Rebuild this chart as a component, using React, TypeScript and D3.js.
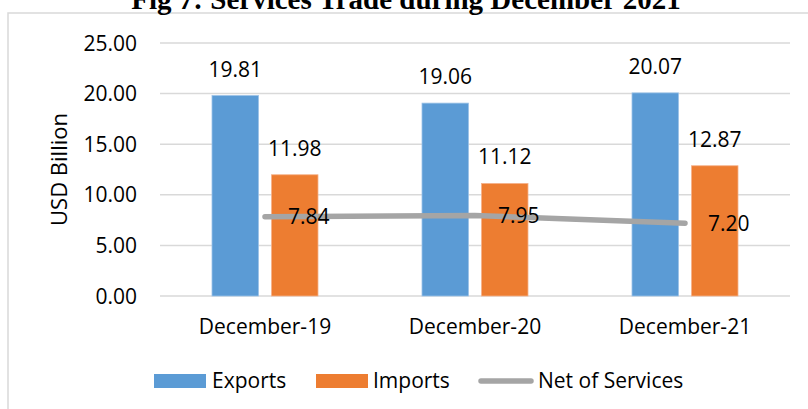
import React from "react";
import * as d3 from "d3";

const categories = ["December-19", "December-20", "December-21"];
const exportsVals = [19.81, 19.06, 20.07];
const importsVals = [11.98, 11.12, 12.87];
const netVals = [7.84, 7.95, 7.2];
const yTicks = [0, 5, 10, 15, 20, 25];
const seriesNames = ["Exports", "Imports", "Net of Services"];
const title = "Fig 7: Services Trade during December 2021";
const yTitle = "USD Billion";

const W = 808;
const H = 409;
const FONT = "'Open Sans', 'Noto Sans', sans-serif";
const FS = 21;
const BLUE = "#5B9BD5";
const ORANGE = "#ED7D31";
const GREY = "#A5A5A5";

export default function App() {
  const x = d3.scaleBand<string>().domain(categories).range([160, 790]);
  const y = d3.scaleLinear().domain([0, 25]).range([296, 43]);
  const barW = 46.5;
  const gap = 13;
  const fmt = d3.format(".2f");
  const line = d3
    .line<number>()
    .x((_, i) => (x(categories[i]) as number) + x.bandwidth() / 2)
    .y((d) => y(d));

  return (
    <svg
      width={W}
      height={H}
      style={{ position: "absolute", left: 0, top: 0, background: "#fff" }}
      fontFamily={FONT}
    >
      <rect x={8} y={13} width={W} height={H} fill="#fff" stroke="#d9d9d9" strokeWidth={1.5} />
      <text
        x={406}
        y={9}
        textAnchor="middle"
        fontFamily="'Liberation Serif', 'Times New Roman', serif"
        fontWeight="bold"
        fontSize={29}
        fill="#000"
      >
        {title}
      </text>
      {yTicks.map((t) => (
        <g key={t}>
          <line x1={160} x2={790} y1={y(t)} y2={y(t)} stroke="#d9d9d9" strokeWidth={1.5} />
          <text x={137} y={y(t)} dy={7.5} textAnchor="end" fontSize={FS} fill="#000">
            {fmt(t)}
          </text>
        </g>
      ))}
      <text
        transform={`translate(67,${(y(0) + y(25)) / 2}) rotate(-90)`}
        textAnchor="middle"
        fontSize={22}
        fill="#000"
      >
        {yTitle}
      </text>
      {categories.map((c, i) => {
        const cx = (x(c) as number) + x.bandwidth() / 2;
        const bx1 = cx - gap / 2 - barW;
        const bx2 = cx + gap / 2;
        return (
          <g key={c}>
            <rect
              x={bx1}
              y={y(exportsVals[i])}
              width={barW}
              height={y(0) - y(exportsVals[i])}
              fill={BLUE}
              stroke="#9cc2e8"
              strokeWidth={0.8}
            />
            <rect
              x={bx2}
              y={y(importsVals[i])}
              width={barW}
              height={y(0) - y(importsVals[i])}
              fill={ORANGE}
              stroke="#f5b18a"
              strokeWidth={0.8}
            />
            <text x={bx1 + barW / 2} y={y(exportsVals[i]) - 19} textAnchor="middle" fontSize={FS} fill="#000">
              {fmt(exportsVals[i])}
            </text>
            <text x={bx2 + barW / 2} y={y(importsVals[i]) - 19} textAnchor="middle" fontSize={FS} fill="#000">
              {fmt(importsVals[i])}
            </text>
            <text x={cx} y={334} textAnchor="middle" fontSize={FS} fill="#000">
              {c}
            </text>
          </g>
        );
      })}
      <path d={line(netVals) || ""} fill="none" stroke={GREY} strokeWidth={5.5} strokeLinecap="round" />
      {categories.map((c, i) => {
        const cx = (x(c) as number) + x.bandwidth() / 2;
        return (
          <text key={c} x={cx + 23} y={y(netVals[i])} dy={7.5} fontSize={FS} fill="#000">
            {fmt(netVals[i])}
          </text>
        );
      })}
      <g>
        <rect x={154} y={374} width={52} height={14} fill={BLUE} />
        <text x={212} y={388} fontSize={FS} fill="#000">{seriesNames[0]}</text>
        <rect x={316} y={374} width={52} height={14} fill={ORANGE} />
        <text x={373} y={388} fontSize={FS} fill="#000">{seriesNames[1]}</text>
        <line x1={481} x2={531} y1={381} y2={381} stroke={GREY} strokeWidth={5.5} strokeLinecap="round" />
        <text x={538} y={388} fontSize={FS} fill="#000">{seriesNames[2]}</text>
      </g>
    </svg>
  );
}
